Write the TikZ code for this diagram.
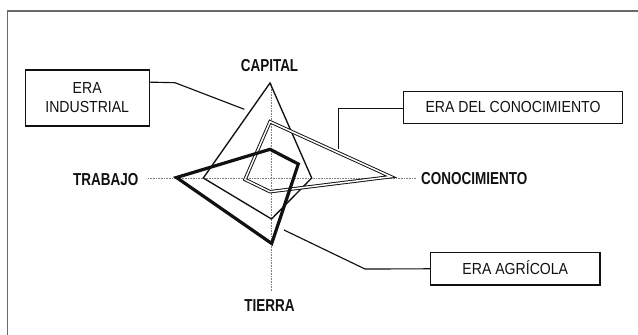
\documentclass[tikz,border=0pt]{standalone}
\usepackage{fontspec}
\setmainfont{Liberation Sans}
\newfontfamily\axisfont[FakeStretch=0.78]{Liberation Sans}
\newfontfamily\boxfont[FakeStretch=0.88]{Liberation Sans}
\definecolor{ink}{HTML}{111111}
\definecolor{framegray}{HTML}{6A6A6A}
\definecolor{dotgray}{HTML}{808080}
\tikzset{
  frameline/.style={draw=framegray, line width=1.3pt},
  axisline/.style={draw=dotgray, line width=1pt, dash pattern=on 0.9pt off 0.7pt},
  axislabel/.style={text=ink, inner sep=0pt, anchor=base, font=\axisfont\bfseries\fontsize{17.3}{20}\selectfont},
  erabox/.style={draw=ink, line width=1.1pt, text=ink, inner sep=0pt, align=center, font=\boxfont\fontsize{16}{19}\selectfont},
  thinpoly/.style={draw=ink, line width=1.35pt, line join=miter},
  doublepoly/.style={draw=ink, line width=0.95pt, double=white, double distance=1.5pt, line join=miter},
  thickpoly/.style={draw=ink, line width=3.2pt, line join=miter},
  leader/.style={draw=ink, line width=1.15pt}
}
\begin{document}
\begin{tikzpicture}[x=1pt,y=-1pt]
\useasboundingbox (0,0) rectangle (638,335);
% frame
\draw[frameline] (7.7,336) -- (7.7,11) -- (639,11);

% axis labels
\node[axislabel] (capital) at (269.5,71) {CAPITAL};
\node[axislabel] (trabajo) at (105.7,185) {TRABAJO};
\node[axislabel] (tierra) at (269.5,311.5) {TIERRA};
\node[axislabel] (conoc) at (474.3,184) {CONOCIMIENTO};

% axes
\coordinate (axL) at (148,178.5);
\coordinate (axR) at (416,178.5);
\coordinate (axT) at (271,84);
\coordinate (axB) at (271,291);
\draw[axisline] (axL) -- (axR);
\draw[axisline] (axT) -- (axB);

% era industrial (thin triangle)
\coordinate (i1) at (270,83);
\coordinate (i2) at (203.3,178);
\coordinate (i3) at (271.5,219);
\coordinate (i4) at (311.7,178);
\draw[thinpoly] (i1) -- (i2) -- (i3) -- (i4) -- cycle;

% era del conocimiento (double line)
\coordinate (k1) at (270,121.7);
\coordinate (k2) at (391,176.7);
\coordinate (k3) at (270,191.7);
\coordinate (k4) at (245,179.5);
\draw[doublepoly] (k1) -- (k2) -- (k3) -- (k4) -- cycle;

% era agricola (thick)
\coordinate (a1) at (270,149.3);
\coordinate (a2) at (298.3,164);
\coordinate (a3) at (271.7,243.5);
\coordinate (a4) at (176.5,177.5);
\draw[thickpoly] (a1) -- (a2) -- (a3) -- (a4) -- cycle;

% boxes
\node[erabox, minimum width=124.3pt, minimum height=56pt] (ind) at (87.2,98) {ERA\\INDUSTRIAL};
\node[erabox, minimum width=219.4pt, minimum height=32pt] (kno) at (513,107.3) {ERA DEL CONOCIMIENTO};
\node[erabox, minimum width=169.3pt, minimum height=32.3pt] (agr) at (515.3,268.8) {ERA AGR\smash{Í}COLA};

% leaders
\coordinate (indbend) at (175,82.7);
\coordinate (indend) at (244.3,109.3);
\draw[leader] ([yshift=-12.7pt]ind.north east) -- (indbend) -- (indend);

\coordinate (knobend) at (338.3,108.3);
\coordinate (knoend) at (338.3,149.3);
\draw[leader] ([yshift=-1pt]kno.west) -- (knobend) -- (knoend);

\coordinate (agrbend) at (365,269);
\coordinate (agrend) at (284,230);
\draw[leader] (agr.west) -- (agrbend) -- (agrend);
\end{tikzpicture}
\end{document}
